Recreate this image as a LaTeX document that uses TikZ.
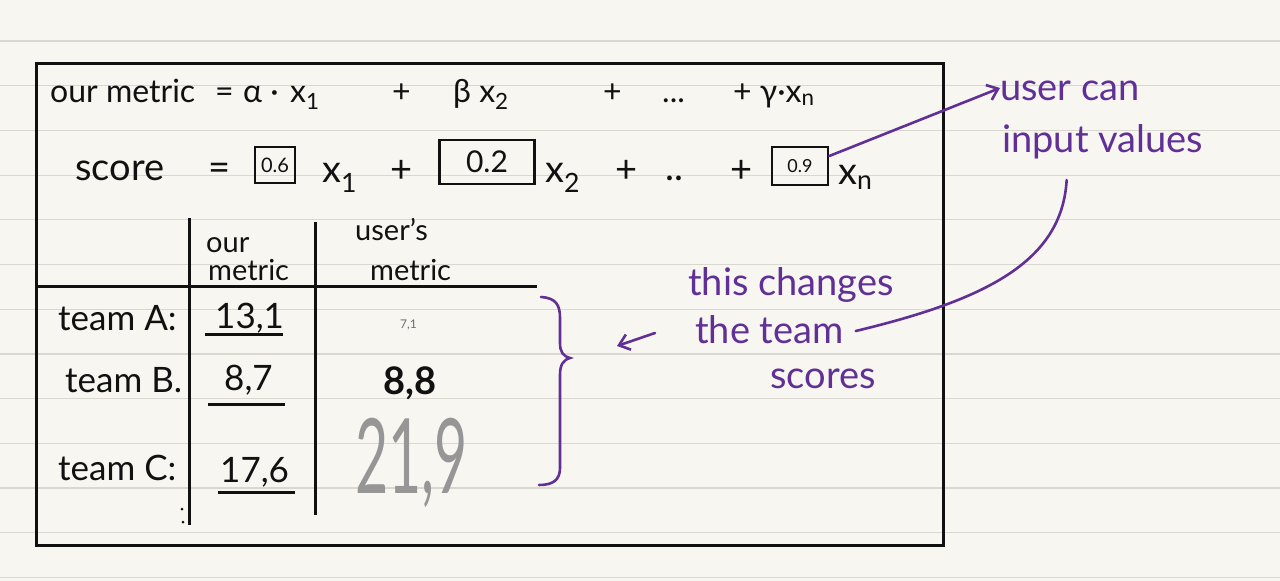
\documentclass[tikz,border=0pt]{standalone}
\usepackage{fontspec}
\setmainfont{Lato}
\usetikzlibrary{arrows.meta}
\definecolor{paper}{RGB}{248,246,241}
\definecolor{ruleline}{RGB}{218,215,208}
\definecolor{ink}{RGB}{17,17,17}
\definecolor{purp}{RGB}{96,48,150}
\definecolor{faint}{RGB}{110,110,110}
\definecolor{lightgray}{RGB}{150,150,150}
\begin{document}
\begin{tikzpicture}[x=1pt,y=-1pt,
  t1/.style={inner sep=0pt,anchor=base west,text=ink,font=\fontsize{32}{38}\selectfont},
  t2/.style={inner sep=0pt,anchor=base west,text=ink,font=\fontsize{38}{44}\selectfont},
  th/.style={inner sep=0pt,anchor=base west,text=ink,font=\fontsize{29}{34}\selectfont},
  tr/.style={inner sep=0pt,anchor=base west,text=ink,font=\fontsize{35}{40}\selectfont},
  pt/.style={inner sep=0pt,anchor=base west,text=purp,font=\fontsize{38}{44}\selectfont},
  valbox/.style={draw=ink,line width=2.6pt,inner sep=0pt,text=ink},
  heavy/.style={draw=ink,line width=3pt},
  pline/.style={draw=purp,line width=2.6pt,line cap=round},
  parr/.style={pline,-{Straight Barb[length=10pt,width=16pt,line width=2.6pt]}}]
\useasboundingbox (0,0) rectangle (1280,581);
\fill[paper] (0,0) rectangle (1280,581);
\foreach \k in {0,...,12}{
  \draw[ruleline,line width=1.2pt] (0,41+44.7*\k) -- (1280,41+44.7*\k);
}
% frame
\draw[heavy] (36,63) rectangle (943,545);
% line 1
\node[t1] (om) at (50,102) {our metric};
\node[t1] (eq1) at (215,102) {=};
\node[t1] (ax) at (243,102) {α ·};
\node[t1] (xa) at (290,102) {x\textsubscript{1}};
\node[t1] (p1) at (392,102) {+};
\node[t1] (bx) at (453,102) {β x\textsubscript{2}};
\node[t1] (p2) at (603,102) {+};
\node[t1] (d1) at (662,102) {...};
\node[t1] (gx) at (733,102) {+ γ·x\textsubscript{n}};
% line 2
\node[t2] (sc) at (75,180) {score};
\node[t2] (eq2) at (208,180) {=};
\node[valbox,minimum width=40pt,minimum height=36pt,font=\fontsize{20}{22}\selectfont] (b06) at (275,165) {0.6};
\node[t2] (x1) at (322,182) {x\textsubscript{1}};
\node[t2] (p3) at (390,182) {+};
\node[valbox,minimum width=95pt,minimum height=44pt,font=\fontsize{30}{34}\selectfont] (b02) at (487,162) {0.2};
\node[t2] (x2) at (545,182) {x\textsubscript{2}};
\node[t2] (p4) at (615,182) {+};
\node[t2] (d2) at (665,180) {..};
\node[t2] (p5) at (730,182) {+};
\node[valbox,minimum width=56pt,minimum height=38pt,font=\fontsize{18}{20}\selectfont] (b09) at (800,166) {0.9};
\node[t2] (xn) at (838,184) {x\textsubscript{n}};
% table
\draw[heavy] (189,218) -- (189,525);
\draw[heavy] (315,222) -- (315,515);
\draw[heavy] (36,286) -- (537,286);
\node[th] (h1a) at (206,252) {our};
\node[th] (h1b) at (208,280) {metric};
\node[th] (h2a) at (355,240) {user's};
\node[th] (h2b) at (370,280) {metric};
\node[tr] (ta) at (58,330) {team A:};
\node[tr] (va) at (215,328) {13,1};
\draw[heavy] (205,334) -- (283,334);
\node[inner sep=0pt,anchor=base west,text=faint,font=\fontsize{12}{14}\selectfont] (ua) at (400,328) {7,1};
\node[tr] (tb) at (65,392) {team B.};
\node[tr] (vb) at (224,390) {8,7};
\draw[heavy] (208,404) -- (285,404);
\node[tr,font=\fontsize{38}{42}\selectfont\bfseries] (ub) at (383,394) {8,8};
\node[tr] (tc) at (58,480) {team C:};
\node[tr] (vc) at (220,482) {17,6};
\draw[heavy] (218,492) -- (295,492);
\node[inner sep=0pt,anchor=base west,text=lightgray,xscale=0.55,font=\fontsize{104}{110}\selectfont] (uc9) at (355,493) {21,9};
\fill[ink] (182,509) circle (1.5pt) (183,522) circle (1.5pt);
% brace
\draw[pline] (541,297) .. controls (556,298) and (560,305) .. (560,318)
  -- (560,343) .. controls (560,352) and (563,356) .. (570,358)
  .. controls (563,360) and (560,365) .. (560,375)
  -- (560,468) .. controls (560,480) and (553,485) .. (539,485);
% annotations
\node[pt] (ucan) at (1000,100) {user can};
\node[pt] (iv) at (1002,152) {input values};
\node[pt] (tch) at (688,295) {this changes};
\node[pt] (tt) at (695,343) {the team};
\node[pt] (scs) at (770,388) {scores};
\coordinate (lstart) at ([xshift=-40pt,yshift=10pt]tt.base west);
\coordinate (lend) at ([xshift=-78pt,yshift=-3pt]tt.base west);
\draw[parr] (lstart) -- (lend);
\draw[parr] ([yshift=10pt]b09.east) -- ([yshift=12pt]ucan.base west);
\coordinate (cs) at ([xshift=-36pt,yshift=-28pt]iv.base);
\draw[pline] (cs) .. controls (1062,262) and (985,300) .. ([xshift=12pt,yshift=12pt]tt.base east);
\end{tikzpicture}
\end{document}
